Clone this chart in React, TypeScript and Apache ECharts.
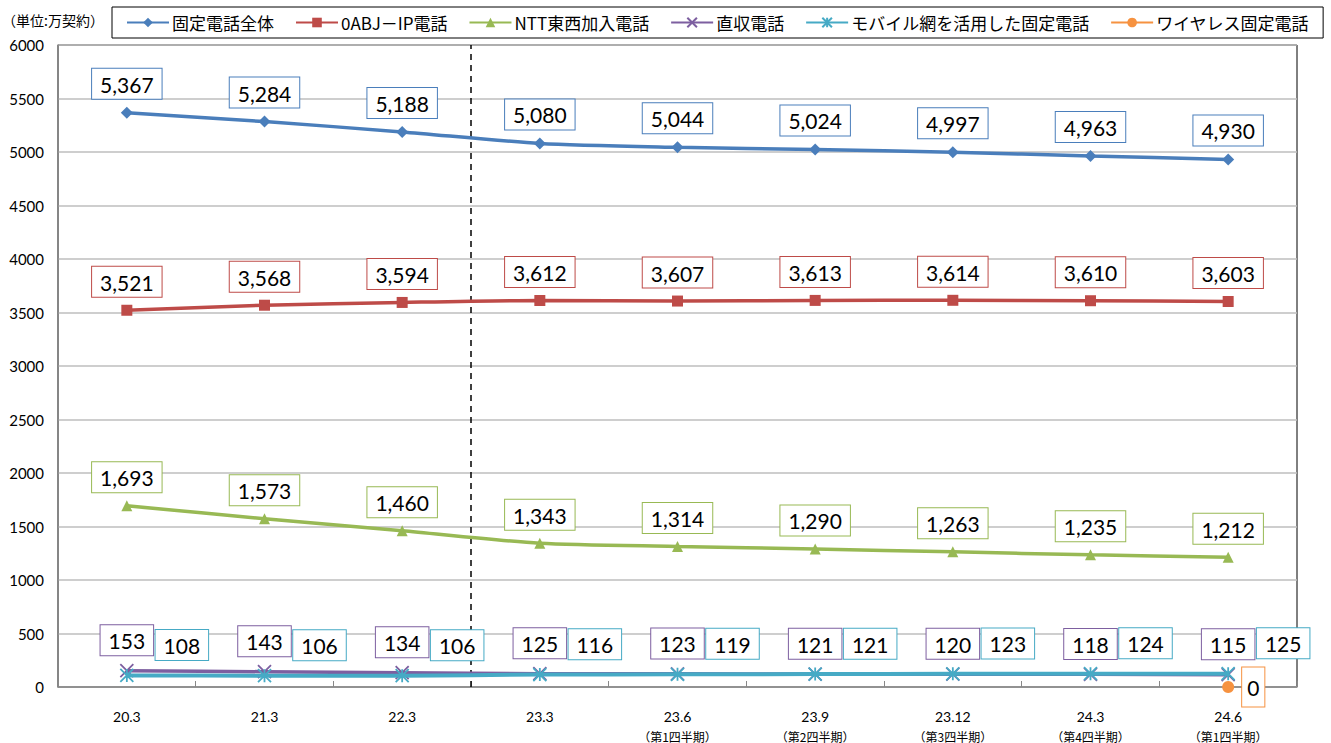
import React, { useEffect, useRef } from "react";
import * as echarts from "echarts";

const categories = ["20.3", "21.3", "22.3", "23.3", "23.6", "23.9", "23.12", "24.3", "24.6"];
const subLabels = ["", "", "", "", "（第1四半期）", "（第2四半期）", "（第3四半期）", "（第4四半期）", "（第1四半期）"];
const fixedTotal = [5367, 5284, 5188, 5080, 5044, 5024, 4997, 4963, 4930];
const ipPhone = [3521, 3568, 3594, 3612, 3607, 3613, 3614, 3610, 3603];
const nttPhone = [1693, 1573, 1460, 1343, 1314, 1290, 1263, 1235, 1212];
const directPhone = [153, 143, 134, 125, 123, 121, 120, 118, 115];
const mobileFixed = [108, 106, 106, 116, 119, 121, 123, 124, 125];
const wirelessFixed = [null, null, null, null, null, null, null, null, 0];
const seriesNames = ["固定電話全体", "0ABJ－IP電話", "NTT東西加入電話", "直収電話", "モバイル網を活用した固定電話", "ワイヤレス固定電話"];
const dividerPos = 3;

const LABEL_FONT = "Lato, 'Liberation Sans', sans-serif";
const JP_FONT = "'Noto Sans CJK JP', sans-serif";

function boxLabel(color: string, extra: any = {}) {
  return {
    show: true,
    position: "top",
    distance: 8,
    formatter: (p: any) => (p.value == null ? "" : Number(p.value).toLocaleString("en-US")),
    color: "#000",
    fontSize: 21,
    fontFamily: LABEL_FONT,
    backgroundColor: "#fff",
    borderColor: color,
    borderWidth: 1,
    padding: [5, 8, 4, 8],
    ...extra,
  };
}

export default function App() {
  const ref = useRef<HTMLDivElement>(null);
  useEffect(() => {
    if (!ref.current) return;
    const chart = echarts.init(ref.current, null, { renderer: "svg" });
    const blue = "#4A7EBB";
    const red = "#BE4B48";
    const green = "#98B954";
    const purple = "#7D5FA0";
    const cyan = "#46AAC5";
    const orange = "#F69240";
    chart.setOption({
      animation: false,
      backgroundColor: "#fff",
      textStyle: { fontFamily: JP_FONT },
      graphic: [
        {
          type: "text",
          left: 2,
          top: 13,
          style: { text: "（単位:万契約）", fontSize: 14, fill: "#000", fontFamily: JP_FONT },
        },
      ],
      legend: {
        left: 112,
        top: 7,
        data: seriesNames,
        borderColor: "#000",
        borderWidth: 1,
        padding: [7, 14, 7, 14],
        itemGap: 21,
        itemWidth: 42,
        itemHeight: 12,
        textStyle: { fontSize: 17, color: "#000", fontFamily: JP_FONT, padding: [0, 0, 0, -2] },
      },
      grid: {
        left: 58,
        right: 34,
        top: 45,
        bottom: 56,
        show: true,
        borderColor: "#000",
        borderWidth: 1,
        containLabel: false,
      },
      xAxis: [
        {
          type: "category",
          data: categories,
          boundaryGap: true,
          axisLine: { lineStyle: { color: "#888", width: 1.5 } },
          axisTick: { show: true, inside: true, length: 6, lineStyle: { color: "#888" } },
          axisLabel: {
            margin: 18,
            formatter: (v: string, i: number) =>
              subLabels[i] ? `{a|${v}}\n{b|${subLabels[i]}}` : `{a|${v}}`,
            rich: {
              a: { fontSize: 14, color: "#000", fontFamily: LABEL_FONT, lineHeight: 22 },
              b: { fontSize: 12, color: "#000", fontFamily: JP_FONT, lineHeight: 18 },
            },
          },
        },
        {
          type: "value",
          min: 0,
          max: 9,
          show: false,
        },
      ],
      yAxis: {
        type: "value",
        min: 0,
        max: 6000,
        interval: 500,
        axisLine: { show: true, lineStyle: { color: "#888", width: 1.5 } },
        axisTick: { show: false },
        splitLine: { lineStyle: { color: "#BEBEBE", width: 1.5 } },
        axisLabel: {
          fontSize: 15,
          color: "#000",
          margin: 14,
          fontFamily: LABEL_FONT,
          formatter: (v: number) => String(v),
        },
      },
      series: [
        {
          name: "divider",
          type: "line",
          xAxisIndex: 1,
          data: [
            [dividerPos, 0],
            [dividerPos, 6000],
          ],
          symbol: "none",
          silent: true,
          lineStyle: { color: "#000", width: 1.5, type: [6, 5] },
          z: 1,
        },
        {
          name: seriesNames[0],
          type: "line",
          data: fixedTotal,
          smooth: 0.25,
          color: blue,
          symbol: "diamond",
          symbolSize: 12,
          lineStyle: { width: 3.5, color: blue },
          label: boxLabel(blue),
        },
        {
          name: seriesNames[1],
          type: "line",
          data: ipPhone,
          smooth: 0.25,
          color: red,
          symbol: "rect",
          symbolSize: 11,
          lineStyle: { width: 3.5, color: red },
          label: boxLabel(red),
        },
        {
          name: seriesNames[2],
          type: "line",
          data: nttPhone,
          smooth: 0.25,
          color: green,
          symbol: "triangle",
          symbolSize: 11,
          lineStyle: { width: 3.5, color: green },
          label: boxLabel(green),
        },
        {
          name: seriesNames[3],
          type: "line",
          data: directPhone,
          smooth: 0.25,
          color: purple,
          symbol: "path://M0,0 L10,10 M10,0 L0,10",
          symbolSize: 13,
          itemStyle: { borderColor: purple, borderWidth: 1.8, color: purple },
          lineStyle: { width: 3.5, color: purple },
          label: boxLabel(purple),
          z: 2,
        },
        {
          name: seriesNames[4],
          type: "line",
          data: mobileFixed,
          smooth: 0.25,
          color: cyan,
          symbol: "path://M0,0 L10,10 M10,0 L0,10 M5,0 L5,10",
          symbolSize: 13,
          itemStyle: { borderColor: cyan, borderWidth: 1.8, color: cyan },
          lineStyle: { width: 4, color: cyan },
          label: boxLabel(cyan, { offset: [55, 0] }),
          z: 3,
        },
        {
          name: seriesNames[5],
          type: "line",
          data: wirelessFixed,
          color: orange,
          symbol: "circle",
          symbolSize: 12,
          lineStyle: { width: 3.5, color: orange },
          label: boxLabel(orange, { position: "right", distance: 8, padding: [9, 5, 9, 5] }),
        },
      ],
    });
    return () => chart.dispose();
  }, []);
  return <div ref={ref} style={{ width: 1331, height: 743, position: "absolute", left: 0, top: 0 }} />;
}
